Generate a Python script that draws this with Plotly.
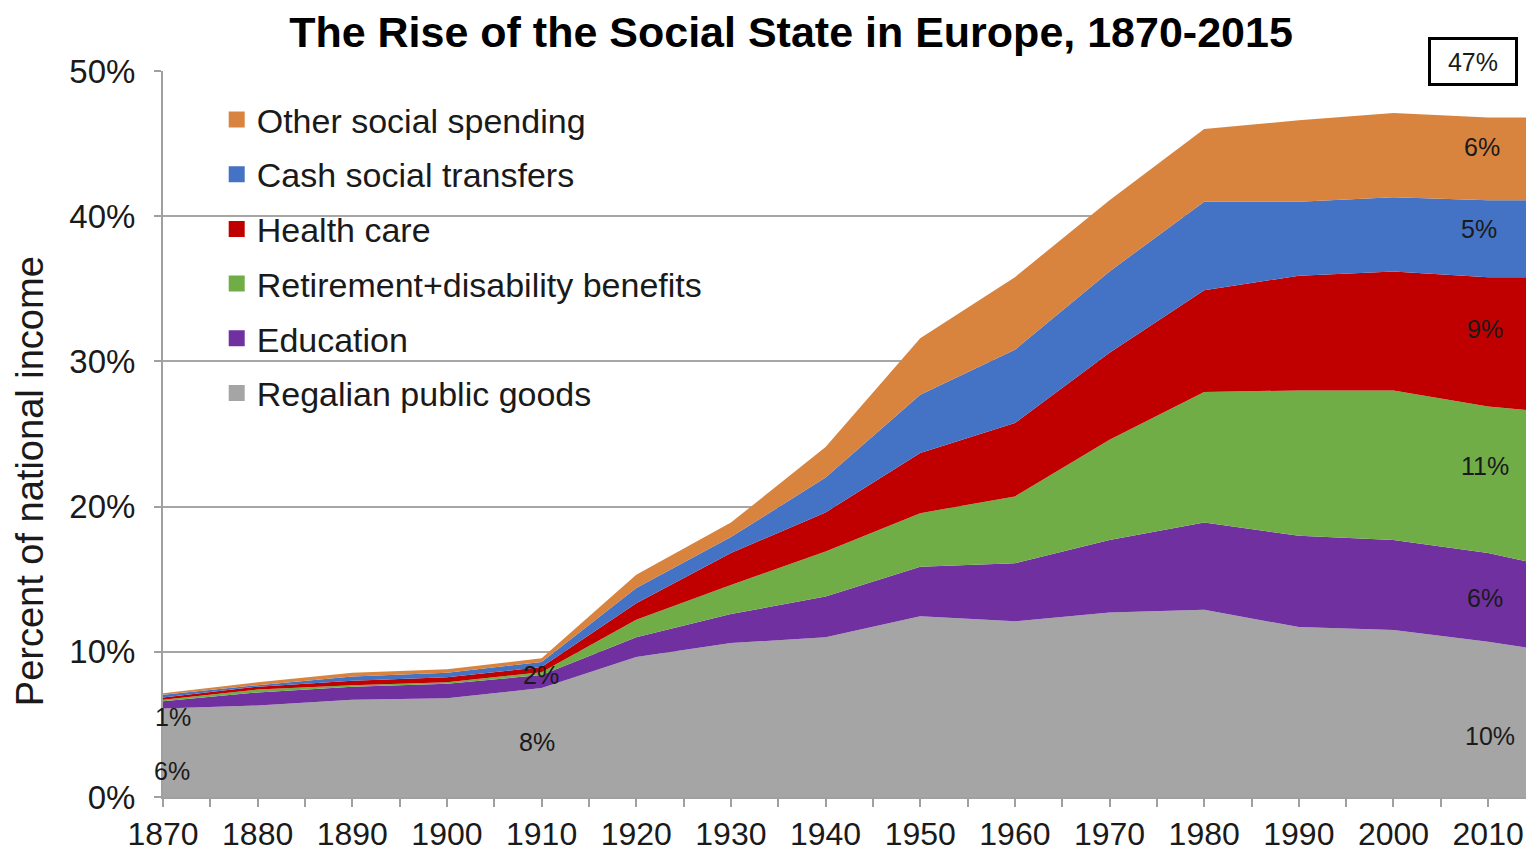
import plotly.graph_objects as go

years = [1870, 1880, 1890, 1900, 1910, 1920, 1930, 1940, 1950, 1960, 1970, 1980, 1990, 2000, 2010, 2015]

regalian = [6.1, 6.3, 6.7, 6.8, 7.5, 9.65, 10.6, 11.0, 12.45, 12.1, 12.7, 12.9, 11.7, 11.5, 10.7, 10.2]
education = [0.5, 0.9, 0.9, 1.0, 0.9, 1.35, 2.0, 2.8, 3.4, 4.0, 5.0, 6.0, 6.3, 6.2, 6.1, 5.9]
retirement = [0.1, 0.2, 0.1, 0.1, 0.2, 1.2, 2.0, 3.1, 3.7, 4.6, 6.9, 9.0, 10.0, 10.3, 10.1, 10.5]
health = [0.15, 0.2, 0.3, 0.35, 0.35, 1.15, 2.2, 2.7, 4.15, 5.05, 6.0, 7.0, 7.9, 8.2, 8.9, 9.2]
cash = [0.2, 0.1, 0.3, 0.3, 0.35, 1.05, 1.1, 2.4, 4.0, 5.05, 5.6, 6.1, 5.1, 5.1, 5.3, 5.3]
other = [0.1, 0.2, 0.25, 0.25, 0.25, 0.9, 1.0, 2.1, 3.9, 5.0, 4.9, 5.0, 5.6, 5.8, 5.7, 5.7]

series_names = ["Regalian public goods", "Education", "Retirement+disability benefits",
                "Health care", "Cash social transfers", "Other social spending"]
series_values = [regalian, education, retirement, health, cash, other]
series_colors = ["#A5A5A5", "#7030A0", "#70AD47", "#C00000", "#4472C4", "#D8843F"]

# share labels: (text, year, y)
labels_left = [("6%", 1871, 1.8), ("1%", 1871.1, 5.5), ("8%", 1909.5, 3.8), ("2%", 1909.9, 8.4)]
labels_right = [("10%", 2010.2, 4.2), ("6%", 2009.7, 13.7), ("11%", 2009.7, 22.8),
                ("9%", 2009.7, 32.2), ("5%", 2009.0, 39.1), ("6%", 2009.3, 44.8)]
total_label = "47%"

y_ticks = [0, 10, 20, 30, 40, 50]
y_tick_text = ["0%", "10%", "20%", "30%", "40%", "50%"]
x_ticks = list(range(1870, 2015, 10))

FONT = "Liberation Sans, Arial, sans-serif"
W, H = 1526, 850

fig = go.Figure()
for name, vals, col in zip(series_names, series_values, series_colors):
    fig.add_trace(go.Scatter(
        x=years, y=vals, name=name, stackgroup="one", mode="none",
        fillcolor=col, showlegend=False, hoverinfo="x+y+name"))

# legend entries (square markers), top to bottom
for name, col in reversed(list(zip(series_names, series_colors))):
    fig.add_trace(go.Scatter(
        x=[None], y=[None], mode="markers", name=name, legendgroup=name,
        marker=dict(symbol="square", size=16, color=col), showlegend=True))

for txt, xx, yy in labels_left + labels_right:
    fig.add_annotation(x=xx, y=yy, text=txt, showarrow=False,
                       font=dict(family=FONT, size=25, color="#1a1a1a"))

fig.add_annotation(x=2008.4, xref="x", y=1.0124, yref="paper", text=total_label,
                   showarrow=False, xanchor="center", yanchor="middle",
                   font=dict(family=FONT, size=25, color="#1a1a1a"),
                   bordercolor="black", borderwidth=3, bgcolor="white",
                   width=84, height=43, borderpad=0)

fig.add_annotation(x=-0.0976, xref="paper", y=0.435, yref="paper",
                   text="Percent of national income", textangle=-90,
                   showarrow=False, xanchor="center", yanchor="middle",
                   font=dict(family=FONT, size=38, color="#1a1a1a"))

fig.update_layout(
    width=W, height=H,
    margin=dict(l=163, r=0, t=71, b=53, autoexpand=False),
    paper_bgcolor="white", plot_bgcolor="white",
    title=dict(text="<b>The Rise of the Social State in Europe, 1870-2015</b>",
               x=791 / W, xanchor="center", y=1 - 32 / H, yanchor="middle",
               xref="container", yref="container",
               font=dict(family=FONT, size=43, color="black")),
    legend=dict(x=0.0394, y=0.9726, xanchor="left", yanchor="top",
                traceorder="grouped", tracegroupgap=7.5,
                font=dict(family=FONT, size=34, color="#1a1a1a"),
                bgcolor="rgba(0,0,0,0)", itemsizing="trace"),
    xaxis=dict(range=[1870, 2014], tickvals=x_ticks, ticks="outside",
               ticklen=8, tickwidth=2, tickcolor="#A0A0A0",
               minor=dict(dtick=5, tick0=1870, ticks="outside", ticklen=8,
                          tickwidth=2, tickcolor="#A0A0A0", showgrid=False),
               showline=True, linecolor="#A0A0A0", linewidth=2,
               showgrid=False, zeroline=False, automargin=False,
               ticklabelstandoff=0,
               tickfont=dict(family=FONT, size=32, color="#1a1a1a")),
    yaxis=dict(range=[0, 50], tickvals=y_ticks, ticktext=y_tick_text,
               ticks="outside", ticklen=7, tickwidth=2, tickcolor="#A0A0A0",
               showline=True, linecolor="#A0A0A0", linewidth=2,
               showgrid=True, gridcolor="#A6A6A6", gridwidth=2, zeroline=False,
               automargin=False, ticklabelstandoff=12,
               tickfont=dict(family=FONT, size=33, color="#1a1a1a")),
)

fig.write_html("out.html",
               config={"displayModeBar": False},
               post_script="document.body.style.margin='0';"
                           "document.body.style.overflow='hidden';")
